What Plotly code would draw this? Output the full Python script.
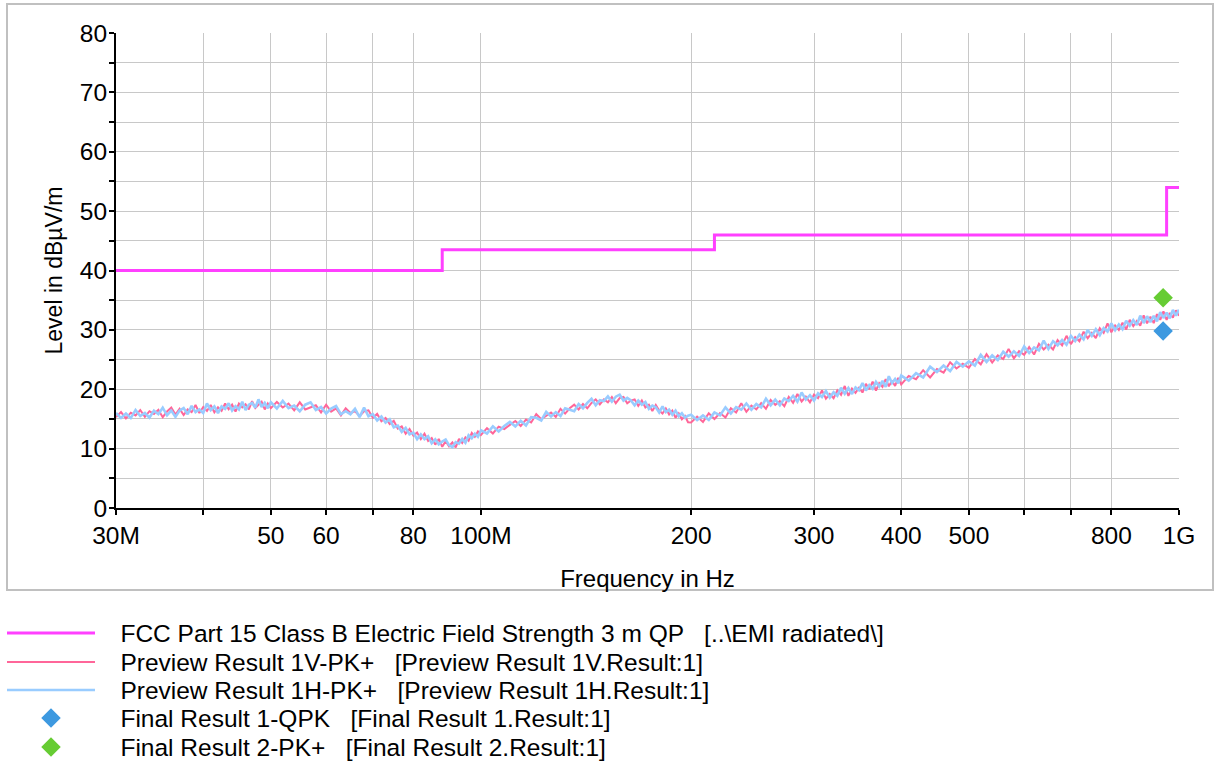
import math
import plotly.graph_objects as go

# ---------------- data ----------------
freq_mhz = [
    30.0, 30.5, 31.0, 31.5, 32.0, 32.5, 33.0, 33.5, 34.0, 34.5,
    35.0, 35.5, 36.0, 36.5, 37.0, 37.5, 38.0, 38.5, 39.0, 39.5,
    40.0, 40.5, 41.0, 41.5, 42.0, 42.5, 43.0, 43.5, 44.0, 44.5,
    45.0, 45.5, 46.0, 46.5, 47.0, 47.5, 48.0, 48.5, 49.0, 49.5,
    50, 51, 52, 53, 54, 55, 56, 57, 58, 59,
    60, 61, 62, 63, 64, 65, 66, 67, 68, 69,
    70, 71, 72, 73, 74, 75, 76, 77, 78, 79,
    80, 81, 82, 83, 84, 85, 86, 87, 88, 89,
    90, 91, 92, 93, 94, 95, 96, 97, 98, 99,
    100, 102, 104, 106, 108, 110, 112, 114, 116, 118,
    120, 122, 124, 126, 128, 130, 132, 134, 136, 138,
    140, 142, 144, 146, 148, 150, 152, 154, 156, 158,
    160, 162, 164, 166, 168, 170, 172, 174, 176, 178,
    180, 182, 184, 186, 188, 190, 192, 194, 196, 198,
    200, 204, 208, 212, 216, 220, 224, 228, 232, 236,
    240, 244, 248, 252, 256, 260, 264, 268, 272, 276,
    280, 284, 288, 292, 296, 300, 304, 308, 312, 316,
    320, 324, 328, 332, 336, 340, 344, 348, 352, 356,
    360, 364, 368, 372, 376, 380, 384, 388, 392, 396,
    400, 410, 420, 430, 440, 450, 460, 470, 480, 490,
    500, 510, 520, 530, 540, 550, 560, 570, 580, 590,
    600, 610, 620, 630, 640, 650, 660, 670, 680, 690,
    700, 710, 720, 730, 740, 750, 760, 770, 780, 790,
    800, 810, 820, 830, 840, 850, 860, 870, 880, 890,
    900, 910, 920, 930, 940, 950, 960, 970, 980, 990,
    1000,
]

level_1v = [
    15.3, 16.15, 15.1, 16.05, 15.6, 16.5, 15.35, 16.3, 15.85, 16.55,
    15.3, 16.25, 16.9, 15.75, 16.7, 15.65, 16.6, 16.15, 17.35, 16.0,
    17.0, 16.35, 17.35, 16.1, 16.95, 16.35, 17.6, 16.65, 17.4, 16.25,
    17.6, 16.95, 17.45, 16.6, 18.0, 16.85, 17.4, 17.9, 16.6, 17.6,
    16.8, 17.87, 16.93, 17.6, 16.45, 17.8, 16.6, 17.0, 17.3, 16.1,
    17.4, 16.23, 16.77, 15.6, 16.8, 16.0, 16.3, 15.5, 16.3, 16.45,
    15.2, 15.85, 14.6, 15.17, 14.13, 14.7, 13.37, 13.73, 12.5, 13.3,
    12.2, 12.7, 11.6, 12.5, 11.3, 11.8, 10.67, 11.63, 10.3, 11.25,
    10.4, 11.05, 10.2, 11.65, 10.95, 11.9, 11.35, 12.65, 12.0, 12.9,
    12.3, 13.45, 12.55, 13.7, 13.3, 14.0, 14.65, 13.8, 14.9, 14.4,
    15.8, 14.95, 15.6, 16.1, 15.35, 16.7, 15.9, 16.8, 17.4, 16.6,
    17.5, 16.8, 17.7, 18.3, 17.45, 18.3, 17.8, 18.7, 17.65, 18.5,
    18.7, 17.65, 18.1, 18.3, 17.2, 18.1, 16.95, 17.4, 16.35, 17.35,
    16.4, 15.9, 16.75, 15.75, 16.4, 15.2, 15.95, 14.95, 15.5, 14.45,
    14.4, 15.4, 14.5, 15.95, 15.0, 16.0, 15.25, 16.8, 16.1, 17.65,
    16.2, 17.25, 16.6, 17.65, 16.7, 18.2, 17.35, 18.0, 17.15, 18.7,
    17.7, 19.2, 17.95, 18.75, 17.8, 19.1, 18.5, 19.8, 18.4, 19.2,
    18.5, 19.8, 19.05, 20.55, 18.9, 20.1, 19.4, 20.25, 19.45, 20.9,
    20.0, 21.3, 19.75, 21.05, 20.4, 21.7, 20.5, 21.45, 20.55, 21.9,
    20.8, 22.25, 21.7, 23.2, 22.0, 23.4, 22.8, 24.55, 23.5, 24.3,
    23.6, 25.1, 24.2, 25.9, 24.5, 25.7, 25.1, 26.8, 25.2, 26.4,
    25.8, 27.1, 25.85, 27.65, 26.7, 27.5, 26.7, 28.3, 27.4, 29.0,
    27.6, 28.8, 28.1, 29.7, 28.6, 29.5, 28.6, 30.3, 29.5, 31.1,
    29.6, 30.75, 30.0, 31.2, 30.05, 31.7, 30.65, 31.5, 30.7, 32.45,
    31.1, 32.2, 31.15, 32.65, 31.7, 33.1, 31.7, 32.85, 32.05, 33.3,
    32.4,
]

level_1h = [
    16.0, 15.15, 15.9, 15.15, 16.5, 15.5, 16.0, 15.2, 16.4, 15.8,
    16.9, 15.6, 16.4, 15.35, 16.4, 16.85, 15.8, 17.2, 16.15, 16.6,
    16.0, 17.6, 16.5, 17.1, 16.0, 17.1, 16.7, 17.65, 16.4, 17.15,
    16.6, 17.9, 16.5, 17.4, 17.7, 16.9, 18.3, 17.0, 17.7, 16.8,
    17.8, 16.77, 18.03, 16.8, 17.25, 16.3, 17.4, 17.8, 16.5, 17.0,
    15.9, 16.73, 17.17, 15.8, 16.3, 15.8, 16.7, 15.3, 16.9, 15.45,
    15.8, 14.75, 15.4, 14.37, 14.93, 13.6, 13.87, 12.83, 13.5, 12.4,
    12.7, 11.6, 12.4, 11.6, 12.1, 10.9, 11.57, 10.73, 11.2, 11.55,
    10.6, 10.25, 11.1, 10.85, 11.65, 11.0, 12.25, 11.75, 12.5, 12.0,
    13.1, 12.55, 13.75, 12.9, 13.8, 14.5, 13.75, 14.7, 13.9, 15.3,
    15.2, 14.75, 16.2, 15.4, 16.15, 15.5, 16.8, 16.6, 16.3, 17.5,
    16.8, 17.7, 18.4, 17.3, 18.15, 18.0, 18.8, 17.9, 18.75, 19.1,
    18.1, 18.55, 18.1, 17.3, 18.1, 17.4, 17.85, 16.7, 17.25, 16.95,
    16.1, 17.1, 16.15, 16.55, 15.7, 16.4, 15.45, 15.95, 15.2, 15.55,
    15.7, 14.8, 15.6, 14.85, 16.1, 15.6, 16.95, 15.9, 17.0, 16.55,
    17.6, 16.55, 17.5, 16.95, 18.4, 17.3, 18.25, 17.3, 18.45, 18.0,
    18.9, 17.9, 19.45, 18.25, 19.0, 18.1, 19.3, 18.7, 19.7, 18.6,
    19.5, 18.9, 20.25, 19.25, 20.2, 19.2, 20.3, 19.85, 21.05, 19.8,
    20.7, 20.1, 21.25, 20.45, 21.4, 20.4, 22.2, 21.05, 21.75, 21.0,
    22.3, 21.45, 22.7, 22.0, 23.8, 22.9, 24.0, 23.05, 24.6, 23.8,
    24.7, 24.0, 25.8, 24.6, 25.7, 24.9, 26.3, 25.5, 26.4, 25.6,
    27.2, 26.1, 27.05, 26.55, 28.2, 26.8, 28.1, 27.4, 28.3, 27.5,
    29.0, 28.1, 29.2, 28.4, 30.0, 29.0, 30.1, 29.1, 30.3, 29.7,
    31.1, 29.95, 30.9, 30.1, 31.55, 30.7, 31.65, 30.8, 32.4, 31.15,
    32.3, 31.3, 32.35, 31.45, 33.0, 32.0, 32.9, 31.95, 33.35, 32.4,
    33.4,
]

limit_freq = [30, 88, 216, 960, 1000]
limit_level = [40, 43.5, 46, 54, 54]

final1_freq = [949]
final1_level = [29.8]
final2_freq = [949]
final2_level = [35.4]

x_tickvals = [30, 40, 50, 60, 70, 80, 100, 200, 300, 400, 500, 600, 700, 800, 1000]
x_ticktext = ["30M", "", "50", "60", "", "80", "100M", "200", "300", "400", "500", "", "", "800", "1G"]
y_tickvals = [0, 5, 10, 15, 20, 25, 30, 35, 40, 45, 50, 55, 60, 65, 70, 75, 80]
y_ticktext = ["0", "", "10", "", "20", "", "30", "", "40", "", "50", "", "60", "", "70", "", "80"]

names = [
    "   FCC Part 15 Class B Electric Field Strength 3 m QP   [..\\EMI radiated\\]",
    "   Preview Result 1V-PK+   [Preview Result 1V.Result:1]",
    "   Preview Result 1H-PK+   [Preview Result 1H.Result:1]",
    "   Final Result 1-QPK   [Final Result 1.Result:1]",
    "   Final Result 2-PK+   [Final Result 2.Result:1]",
]

# ---------------- figure ----------------
FONT = "Liberation Sans, Arial, sans-serif"
W, H = 1215, 763
ML, MR, MT, MB = 116, 36, 33, 255
PW, PH = W - ML - MR, H - MT - MB
BOTTOM = MT + PH

legend_ids = ["legend", "legend2", "legend3", "legend4", "legend5"]
legend_rows_px = [633, 662, 690, 718, 747]

fig = go.Figure()
fig.add_trace(go.Scatter(x=limit_freq, y=limit_level, mode="lines", line_shape="hv",
                         line=dict(color="#ff40ff", width=3), name=names[0], legend=legend_ids[0]))
fig.add_trace(go.Scatter(x=freq_mhz, y=level_1v, mode="lines",
                         line=dict(color="#ff6699", width=2), name=names[1], legend=legend_ids[1]))
fig.add_trace(go.Scatter(x=freq_mhz, y=level_1h, mode="lines",
                         line=dict(color="#99ccff", width=2.6), name=names[2], legend=legend_ids[2]))
fig.add_trace(go.Scatter(x=final1_freq, y=final1_level, mode="markers",
                         marker=dict(symbol="diamond", size=15, color="#3d99e0"), name=names[3],
                         legend=legend_ids[3]))
fig.add_trace(go.Scatter(x=final2_freq, y=final2_level, mode="markers",
                         marker=dict(symbol="diamond", size=15, color="#66cc33"), name=names[4],
                         legend=legend_ids[4]))

legends = {}
for lid, row in zip(legend_ids, legend_rows_px):
    legends[lid] = dict(x=-114 / PW, xanchor="left", y=-(row - BOTTOM) / PH, yanchor="middle",
                        itemwidth=88, bgcolor="rgba(0,0,0,0)", borderwidth=0,
                        font=dict(size=24.5))

xr = [math.log10(30), math.log10(1000)]
grid = "#c8c8c8"
fig.update_layout(
    width=W, height=H,
    margin=dict(l=ML, r=MR, t=MT, b=MB, pad=0, autoexpand=False),
    paper_bgcolor="white", plot_bgcolor="white",
    font=dict(family=FONT, size=24, color="black"),
    xaxis=dict(type="log", range=xr, tickvals=x_tickvals, ticktext=x_ticktext,
               showgrid=True, gridcolor=grid, gridwidth=1.3, zeroline=False,
               showline=True, linecolor="black", linewidth=2,
               ticks="outside", ticklen=5, tickwidth=1.5, tickcolor="black",
               tickfont=dict(size=24.5), ticklabelstandoff=0,
               title=dict(text="Frequency in Hz", standoff=22, font=dict(size=24))),
    yaxis=dict(range=[0, 80], tickvals=y_tickvals, ticktext=y_ticktext,
               showgrid=True, gridcolor=grid, gridwidth=1.3, zeroline=False,
               showline=True, linecolor="black", linewidth=2,
               ticks="outside", ticklen=5, tickwidth=1.5, tickcolor="black",
               tickfont=dict(size=24.5), ticklabelstandoff=-3,
               title=dict(text="Level in dBµV/m", standoff=11, font=dict(size=23))),
    xaxis2=dict(type="log", range=xr, overlaying="x", anchor="y", side="bottom",
                tickvals=x_tickvals, showticklabels=False, showgrid=False, zeroline=False,
                ticks="inside", ticklen=5, tickwidth=1.5, tickcolor="black", showline=False),
    yaxis2=dict(range=[0, 80], overlaying="y", anchor="x", side="left",
                tickvals=y_tickvals, showticklabels=False, showgrid=False, zeroline=False,
                ticks="inside", ticklen=6, tickwidth=1.5, tickcolor="black", showline=False),
    showlegend=True,
    shapes=[dict(type="rect", xref="paper", yref="paper",
                 x0=(7 - ML) / PW, x1=(1213 - ML) / PW,
                 y0=-(590 - BOTTOM) / PH, y1=(BOTTOM - 4) / PH,
                 line=dict(color="#c0c0c0", width=2), fillcolor="rgba(0,0,0,0)", layer="below")],
    **legends,
)

fig.write_html("out.html",
               config={"displayModeBar": False},
               post_script="document.body.style.margin='0';document.body.style.padding='0';")
